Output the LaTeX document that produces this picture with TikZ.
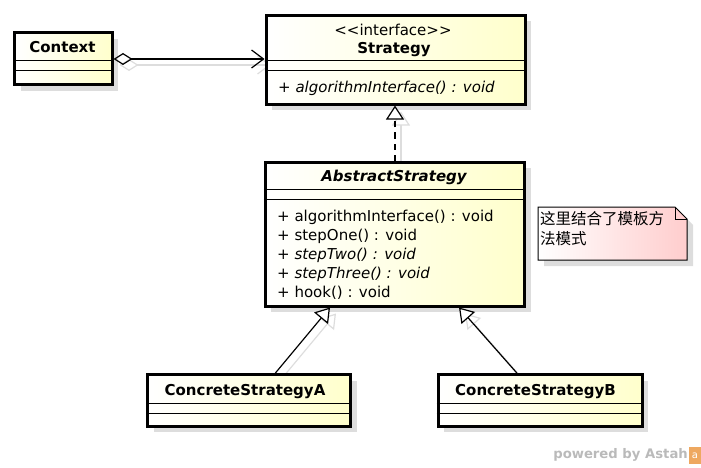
\documentclass[tikz,border=0pt]{standalone}
\usepackage{fontspec}
\setmainfont{DejaVu Sans}
\newfontfamily\cjk{Noto Sans CJK SC}
\usetikzlibrary{arrows.meta,shadows,backgrounds}
\newcommand{\umlfont}{\fontsize{15}{19}\selectfont}
\definecolor{classfill}{RGB}{255,255,204}
\definecolor{notefill}{RGB}{255,205,205}
\definecolor{shadowgray}{RGB}{221,221,221}
\definecolor{astahorange}{RGB}{238,168,96}
\tikzset{
classbox/.style={draw,line width=3pt,inner sep=0pt,left color=white,right color=classfill,
  drop shadow={shadow xshift=6pt,shadow yshift=-6pt,fill=shadowgray,opacity=1}},
sepline/.style={line width=1pt},
classname/.style={anchor=base,inner sep=0pt,font=\umlfont\bfseries},
stereo/.style={anchor=base,inner sep=0pt,font=\umlfont},
optext/.style={anchor=base west,inner sep=0pt,font=\umlfont},
notebox/.style={line width=1pt,left color=white,right color=notefill},
notetext/.style={anchor=base west,inner sep=0pt,font=\cjk\fontsize{15.5}{20}\selectfont},
assoc/.style={line width=1.2pt,{Diamond[open,length=19pt,width=12pt]}-{Straight Barb[length=12pt,width=18pt]}},
generalize/.style={line width=1.2pt,-{Triangle[open,length=14pt,width=18pt,fill=white]}},
realize/.style={generalize,dash pattern=on 6pt off 5pt},
shadowline/.style={draw=shadowgray,transform canvas={xshift=6pt,yshift=-6pt}},
powered/.style={anchor=base east,inner sep=0pt,text=black!27,font=\fontsize{13.2}{15}\selectfont\bfseries},
logo/.style={fill=astahorange,minimum width=13pt,minimum height=17pt,inner sep=0pt,text=white,font=\fontsize{10}{10}\selectfont}
}
\begin{document}
\begin{tikzpicture}[x=1pt,y=-1pt]
\useasboundingbox (0,0) rectangle (701,468);

\node[classbox,minimum width=97.5pt,minimum height=52pt] (ctx) at (63.25,59) {};
\node[classbox,minimum width=259pt,minimum height=88.7pt] (strat) at (395.5,59.7) {};
\node[classbox,minimum width=259.4pt,minimum height=144pt] (abs) at (395,234) {};
\node[classbox,minimum width=203pt,minimum height=51.6pt] (csA) at (249.25,400.5) {};
\node[classbox,minimum width=204pt,minimum height=51.6pt] (csB) at (540,400.5) {};

\foreach \b/\ya/\yb in {ctx/61/71,strat/61/71,abs/189/199,csA/403/413,csB/403/413}
{
\draw[sepline] (\b.west |- 0,\ya) -- (\b.east |- 0,\ya) (\b.west |- 0,\yb) -- (\b.east |- 0,\yb);
}

\node[classname] (ctxname) at (62.5,53) {Context};
\node[stereo] (stratstereo) at (393,35.5) {<\kern0pt<\kern0pt interface>\kern0pt>};
\node[classname] (stratname) at (394,53.3) {Strategy};
\node[optext,font=\umlfont\itshape] (stratop) at (278,93) {+ algorithmInterface() : void};
\node[classname,font=\umlfont\bfseries\itshape] (absname) at (394,181.5) {AbstractStrategy};
\foreach \y/\op [count=\i] in {221.5/{+ algorithmInterface() : void},240.5/{+ stepOne() : void},259.5/{+ \textit{stepTwo() : void}},278.5/{+ \textit{stepThree() : void}},297/{+ hook() : void}}
{
\node[optext] (absop\i) at (277,\y) {\op};
}
\node[classname] (csAname) at (245,395) {ConcreteStrategyA};
\node[classname] (csBname) at (535.5,395) {ConcreteStrategyB};

\draw[assoc] (ctx.east) -- (ctx.east -| strat.west);
\draw[realize] (abs.north) -- (abs.north |- strat.south);
\draw[generalize] ([shift={(26,0)}]csA.north) -- ([shift={(-65,0)}]abs.south);
\draw[generalize] ([shift={(-23,0)}]csB.north) -- ([shift={(64,0)}]abs.south);

\begin{scope}[on background layer]
\draw[assoc,shadowline] (ctx.east) -- (ctx.east -| strat.west);
\draw[generalize,shadowline] (abs.north) -- (abs.north |- strat.south);
\draw[generalize,shadowline] ([shift={(26,0)}]csA.north) -- ([shift={(-65,0)}]abs.south);
\draw[generalize,shadowline] ([shift={(-23,0)}]csB.north) -- ([shift={(64,0)}]abs.south);
\end{scope}

\fill[shadowgray,transform canvas={xshift=6pt,yshift=-6pt}] (538,207) -- (675,207) -- (687,219) -- (687,260) -- (538,260) -- cycle;
\draw[notebox] (538,207) -- (675,207) -- (687,219) -- (687,260) -- (538,260) -- cycle;
\draw[line width=1pt] (675,207) -- (675,219) -- (687,219);
\node[notetext] (noteA) at (540,224) {这里结合了模板方};
\node[notetext] (noteB) at (540,244) {法模式};

\node[powered] (astah) at (688,458) {powered by Astah};
\node[logo] (astahlogo) at (695,455.5) {a};
\end{tikzpicture}
\end{document}
